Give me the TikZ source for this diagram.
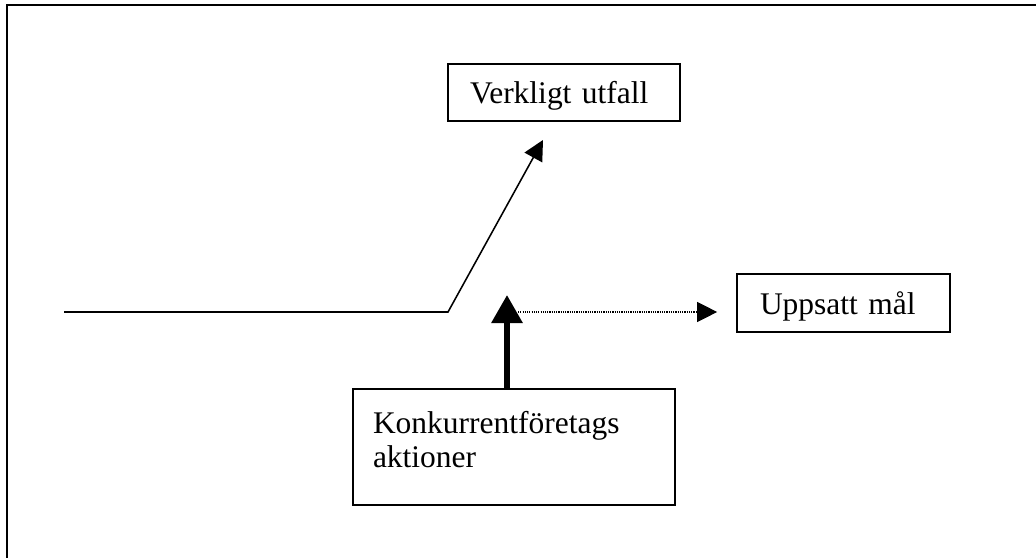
\documentclass[tikz,border=0pt]{standalone}
\usepackage{fontspec}
\setmainfont{Liberation Serif}
\usetikzlibrary{positioning,arrows.meta,calc}

\begin{document}
\begin{tikzpicture}[
  font=\fontsize{22.4}{24.2}\selectfont,
  box/.style={draw,line width=1.2pt,align=left,inner ysep=0pt,text depth=0pt},
  flow/.style={line width=1.1pt,-{Triangle[length=5mm,width=5mm]}},
  press/.style={line width=4.3pt,-{Triangle[length=7mm,width=7.5mm]}},
  aim/.style={line width=0.8pt,dash pattern=on 0.8pt off 0.8pt,-{Triangle[length=5mm,width=5mm]}},
]
\useasboundingbox (0,0) rectangle (25.9,-13.95);
% frame, only top and left edges show
\draw[line width=1.4pt] (0.175,-13.95) -- (0.175,-0.125) -- (25.9,-0.125);

% =========== boxes ===========
\node[box,text width=4.7cm,inner xsep=5.5mm,minimum height=1.425cm] (outcome) at (14.1,-2.3125) {Verkligt utfall};
\node[box,text width=4.175cm,inner xsep=5.75mm,minimum height=1.45cm] (goal) at (21.0875,-7.575) {Uppsatt mål};
\node[box,text width=7.05cm,inner xsep=5mm,minimum height=2.9cm,text depth=1.24cm] (rivals) at (12.85,-11.175) {Konkurrentföretags\\aktioner};

% =========== arrows ===========
\coordinate (start) at (1.6,-7.8);
\coordinate (kink) at (11.2,-7.8);
\coordinate (hit) at (13.575,-3.5);
\coordinate (lift) at (12.675,-7.375);
\coordinate (aimfrom) at (12.95,-7.8);

\draw[flow] (start) -- (kink) -- (hit);
\draw[press] (rivals.north -| lift) -- (lift);
\draw[aim,shorten >=4.75mm] (aimfrom) -- (aimfrom -| goal.west);

\end{tikzpicture}
\end{document}
